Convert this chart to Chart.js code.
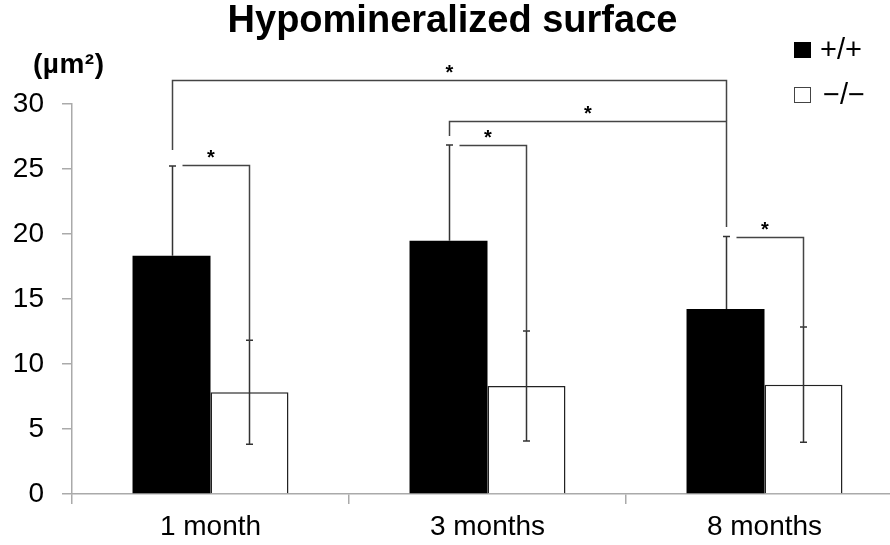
<!DOCTYPE html>
<html>
<head>
<meta charset="utf-8">
<script src="https://cdn.jsdelivr.net/npm/chart.js@4/dist/chart.umd.min.js"></script>
<style>
  html, body { margin: 0; padding: 0; background: #fff; overflow: hidden; }
  #wrap { position: relative; width: 905px; height: 545px; font-family: "Liberation Sans", Arial, sans-serif; }
  #title { position: absolute; left: 0; top: 0px; width: 905px; text-align: center; font-weight: bold; font-size: 38px; line-height: 38px; }
  #unit { position: absolute; left: 33px; top: 50px; font-weight: bold; font-size: 28px; line-height: 28px; letter-spacing: 0.5px; }
  .leg { position: absolute; left: 794px; display: flex; align-items: center; font-size: 29px; line-height: 29px; }
  .leg span.box { display: inline-block; width: 17px; height: 16px; box-sizing: border-box; margin-right: 9px; }
</style>
</head>
<body>
<div id="wrap">
  <canvas id="hypoChart" width="905" height="545"></canvas>
  <div id="title">Hypomineralized surface</div>
  <div id="unit">(µm²)</div>
  <div class="leg" style="top:35px"><span class="box" style="background:#000"></span>+/+</div>
  <div class="leg" style="top:80px"><span class="box" style="background:#fff;border:1px solid #444"></span><span style="margin-left:3px">−/−</span></div>
</div>
<script>
const categories = ["1 month", "3 months", "8 months"];
const seriesNames = ["+/+", "−/−"];
const wildType = [18.33, 19.49, 14.23];
const wildTypeSd = [6.9, 7.36, 5.57];
const knockout = [7.82, 8.3, 8.41];
const knockoutSd = [4.0, 4.23, 4.43];
const yTicks = [0, 5, 10, 15, 20, 25, 30];

// significance brackets: [cat, series] -> [cat, series], level of the bar, where legs stop (null = no leg)
const brackets = [
  { from: [0, 0], to: [0, 1], level: 25.3, leftEnd: null, rightEnd: 11.8 },
  { from: [1, 0], to: [1, 1], level: 26.85, leftEnd: null, rightEnd: 12.54 },
  { from: [2, 0], to: [2, 1], level: 19.77, leftEnd: null, rightEnd: 12.85 },
  { from: [1, 0], to: [2, 0], level: 28.7, leftEnd: 27.54, rightEnd: 20.54 },
  { from: [0, 0], to: [2, 0], level: 31.85, leftEnd: 26.46, rightEnd: 28.7 },
];

const allSd = [wildTypeSd, knockoutSd];
// black bars only show the upper whisker
const lowerWhisker = [false, true];

const errorBars = {
  id: "errorBars",
  afterDatasetsDraw(chart) {
    const ctx = chart.ctx;
    const y = chart.scales.y;
    ctx.save();
    ctx.strokeStyle = "#333";
    ctx.lineWidth = 1.5;
    chart.data.datasets.forEach((ds, di) => {
      const meta = chart.getDatasetMeta(di);
      meta.data.forEach((bar, i) => {
        const v = ds.data[i];
        const sd = allSd[di][i];
        const top = y.getPixelForValue(v + sd);
        const bot = lowerWhisker[di] ? y.getPixelForValue(v - sd) : y.getPixelForValue(v);
        const x = Math.round(bar.x) + 0.5;
        ctx.beginPath();
        ctx.moveTo(x, top);
        ctx.lineTo(x, bot);
        ctx.moveTo(x - 3.5, top);
        ctx.lineTo(x + 3.5, top);
        if (lowerWhisker[di]) {
          ctx.moveTo(x - 3.5, bot);
          ctx.lineTo(x + 3.5, bot);
        }
        ctx.stroke();
      });
    });

    // brackets
    ctx.strokeStyle = "#444";
    ctx.lineWidth = 1.5;
    ctx.fillStyle = "#000";
    ctx.font = "bold 20px 'Liberation Sans', Arial, sans-serif";
    ctx.textAlign = "center";
    ctx.textBaseline = "alphabetic";
    brackets.forEach((b) => {
      const x1 = Math.round(chart.getDatasetMeta(b.from[1]).data[b.from[0]].x) + 0.5;
      const x2 = Math.round(chart.getDatasetMeta(b.to[1]).data[b.to[0]].x) + 0.5;
      const yl = Math.round(y.getPixelForValue(b.level)) + 0.5;
      const start = b.leftEnd === null ? x1 + 10 : x1;
      ctx.beginPath();
      if (b.leftEnd !== null) {
        ctx.moveTo(x1, y.getPixelForValue(b.leftEnd));
        ctx.lineTo(x1, yl);
      } else {
        ctx.moveTo(start, yl);
      }
      ctx.lineTo(x2, yl);
      if (b.rightEnd !== null) ctx.lineTo(x2, y.getPixelForValue(b.rightEnd));
      ctx.stroke();
      ctx.fillText("*", (x1 + x2) / 2, yl - 2);
    });
    ctx.restore();
  },
};

new Chart(document.getElementById("hypoChart"), {
  type: "bar",
  data: {
    labels: categories,
    datasets: [
      {
        label: seriesNames[0],
        data: wildType,
        backgroundColor: "#000",
        borderColor: "#000",
        borderWidth: 0,
        categoryPercentage: 0.563,
        barPercentage: 1,
      },
      {
        label: seriesNames[1],
        data: knockout,
        backgroundColor: "#fff",
        borderColor: "#222",
        borderWidth: 1.5,
        borderSkipped: "bottom",
        categoryPercentage: 0.563,
        barPercentage: 1,
      },
    ],
  },
  options: {
    responsive: false,
    animation: false,
    layout: { padding: { top: 104, right: 2, left: 0, bottom: 0 } },
    plugins: {
      legend: { display: false },
      title: { display: false },
      tooltip: { enabled: false },
    },
    scales: {
      x: {
        grid: { display: true, drawOnChartArea: false, tickLength: 10, color: "#aaa", lineWidth: 1.5 },
        border: { color: "#aaa", width: 1.5 },
        ticks: { color: "#000", padding: 6, font: { family: "'Liberation Sans', Arial", size: 28 } },
        afterFit(scale) { scale.height = 51; },
      },
      y: {
        min: 0,
        max: 30,
        afterBuildTicks(scale) { scale.ticks = yTicks.map((v) => ({ value: v })); },
        grid: { display: true, drawOnChartArea: false, tickLength: 10, color: "#aaa", lineWidth: 1.5 },
        border: { color: "#aaa", width: 1.5 },
        ticks: { color: "#000", padding: 18, font: { family: "'Liberation Sans', Arial", size: 28 } },
        afterFit(scale) { scale.width = 72; },
      },
    },
  },
  plugins: [errorBars],
});
</script>
</body>
</html>
